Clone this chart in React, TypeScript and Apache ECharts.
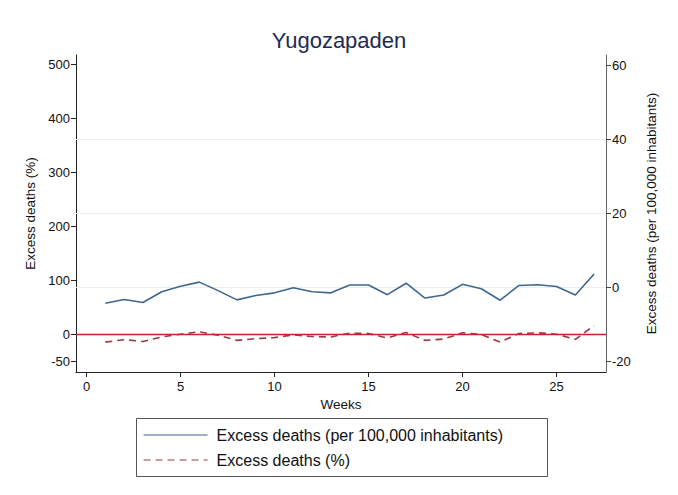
import React, { useEffect, useRef } from "react";
import * as echarts from "echarts";

const weeks = [1,2,3,4,5,6,7,8,9,10,11,12,13,14,15,16,17,18,19,20,21,22,23,24,25,26,27];
const perHundredThousand = [-4.3,-3.3,-4.1,-1.2,0.3,1.4,-0.9,-3.4,-2.2,-1.5,-0.1,-1.2,-1.5,0.6,0.6,-2.0,1.1,-2.9,-2.1,0.8,-0.4,-3.5,0.5,0.7,0.2,-2.1,3.6];
const percentExcess = [-14.0,-9.6,-12.8,-4.5,0.6,5.1,-1.3,-10.8,-7.7,-5.7,-0.6,-3.8,-4.5,2.6,1.9,-6.4,3.8,-10.8,-8.3,3.2,0,-14.0,1.9,3.2,0.6,-8.9,16.5];
const xTicks = [0, 5, 10, 15, 20, 25];
const leftTicks = [-50, 0, 100, 200, 300, 400, 500];
const rightTicks = [-20, 0, 20, 40, 60];
const rightGrid = [0, 20, 40];

const FONT = "'Liberation Sans', Arial, Helvetica, sans-serif";

export default function App() {
  const ref = useRef<HTMLDivElement>(null);
  useEffect(() => {
    if (!ref.current) return;
    const chart = echarts.init(ref.current, null, { renderer: "svg" });
    const blue = "#3f6790";
    const red = "#9a3a45";
    chart.setOption({
      animation: false,
      backgroundColor: "#ffffff",
      textStyle: { fontFamily: FONT },
      title: {
        text: "Yugozapaden",
        left: "center",
        top: 24,
        textStyle: { fontFamily: FONT, fontSize: 22, fontWeight: "normal", color: "#1d2b52" },
      },
      grid: { left: 76, right: 72, top: 55, bottom: 123, containLabel: false },
      legend: {
        orient: "vertical",
        left: 138,
        top: 422,
        itemWidth: 64,
        itemHeight: 18,
        itemGap: 9,
        itemStyle: { color: "transparent", borderWidth: 0, borderColor: "transparent" },
        lineStyle: { width: 1.2 },
        textStyle: { fontFamily: FONT, fontSize: 16, color: "#111", padding: [0, 0, 0, 4] },
        data: ["Excess deaths (per 100,000 inhabitants)", "Excess deaths (%)"],
      },
      graphic: [
        {
          type: "rect",
          shape: { x: 136.5, y: 418.5, width: 411, height: 58 },
          style: { fill: "none", stroke: "#555", lineWidth: 1 },
          silent: true,
        },
      ],
      xAxis: {
        type: "value",
        min: -0.56,
        max: 27.63,
        name: "Weeks",
        nameLocation: "middle",
        nameGap: 25,
        nameTextStyle: { fontFamily: FONT, fontSize: 13.5, color: "#111" },
        axisLine: { show: true, onZero: false, lineStyle: { color: "#222", width: 1 } },
        axisTick: { show: true, length: 5, inside: false, customValues: xTicks, lineStyle: { color: "#222" } },
        axisLabel: { customValues: xTicks, fontSize: 13, color: "#111", margin: 8 },
        splitLine: { show: false },
      },
      yAxis: [
        {
          type: "value",
          position: "left",
          min: -69.4,
          max: 517.6,
          name: "Excess deaths (%)",
          nameLocation: "middle",
          nameRotate: 90,
          nameGap: 38,
          nameTextStyle: { fontFamily: FONT, fontSize: 13.5, color: "#111" },
          axisLine: { show: true, onZero: false, lineStyle: { color: "#222", width: 1 } },
          axisTick: { show: true, length: 5, customValues: leftTicks, lineStyle: { color: "#222" } },
          axisLabel: { customValues: leftTicks, fontSize: 13, color: "#111", margin: 6 },
          splitLine: { show: false },
        },
        {
          type: "value",
          position: "right",
          min: -22.9,
          max: 62.8,
          name: "Excess deaths (per 100,000 inhabitants)",
          nameLocation: "middle",
          nameRotate: 90,
          nameGap: 38,
          nameTextStyle: { fontFamily: FONT, fontSize: 13.5, color: "#111" },
          axisLine: { show: true, onZero: false, lineStyle: { color: "#666", width: 1 } },
          axisTick: { show: true, length: 5, customValues: rightTicks, lineStyle: { color: "#444" } },
          axisLabel: { customValues: rightTicks, fontSize: 13, color: "#111", margin: 6 },
          splitLine: { show: false },
        },
      ],
      series: [
        {
          name: "Excess deaths (per 100,000 inhabitants)",
          type: "line",
          yAxisIndex: 1,
          symbol: "none",
          data: weeks.map((w, i) => [w, perHundredThousand[i]]),
          lineStyle: { color: blue, width: 1.6 },
          itemStyle: { color: blue },
          z: 3,
          markLine: {
            silent: true,
            symbol: "none",
            label: { show: false },
            lineStyle: { color: "#e8eff3", width: 1, type: "solid" },
            data: rightGrid.map((v) => ({ yAxis: v })),
            z: 1,
          },
        },
        {
          name: "Excess deaths (%)",
          type: "line",
          yAxisIndex: 0,
          symbol: "none",
          data: weeks.map((w, i) => [w, percentExcess[i]]),
          lineStyle: { color: red, width: 1.6, type: [7, 5] },
          itemStyle: { color: red },
          z: 3,
          markLine: {
            silent: true,
            symbol: "none",
            label: { show: false },
            lineStyle: { color: "#d11f2a", width: 1.3, type: "solid" },
            data: [{ yAxis: 0 }],
          },
        },
      ],
    });
    return () => chart.dispose();
  }, []);
  return <div ref={ref} style={{ position: "fixed", left: 0, top: 0, width: 678, height: 495 }} />;
}
